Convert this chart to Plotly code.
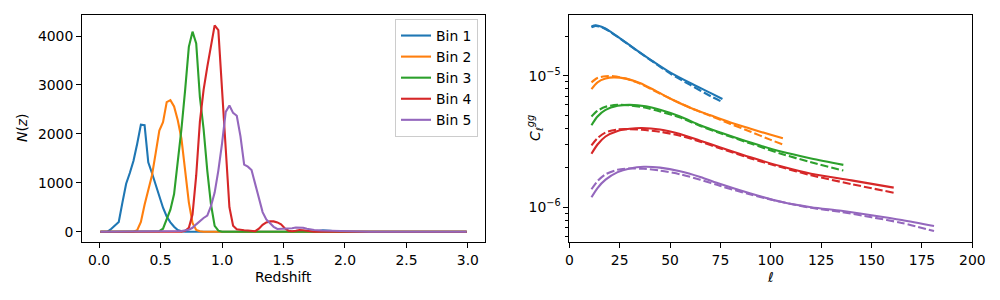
import plotly.graph_objects as go

# ---------------- N(z) data (left panel) ----------------
z_bin1 = [0.01, 0.07, 0.10, 0.13, 0.16, 0.19, 0.22, 0.25, 0.28, 0.31, 0.34, 0.37, 0.40, 0.43, 0.46,
          0.49, 0.52, 0.55, 0.58, 0.61, 0.64, 0.67, 0.70, 1.75, 1.82, 1.88, 1.95, 2.99]
n_bin1 = [0, 0, 60, 130, 200, 600, 980, 1200, 1450, 1800, 2190, 2180, 1420, 1200, 960,
          770, 490, 310, 190, 100, 35, 10, 0, 0, 30, 20, 0, 0]

z_bin2 = [0.01, 0.28, 0.31, 0.34, 0.37, 0.40, 0.43, 0.46, 0.49, 0.52, 0.55, 0.58, 0.61, 0.64,
          0.67, 0.70, 0.73, 0.76, 0.79, 0.82, 0.85, 2.99]
n_bin2 = [0, 0, 30, 200, 550, 850, 1150, 1600, 2070, 2240, 2650, 2690, 2560, 2280,
          1900, 1250, 600, 180, 35, 10, 0, 0]

z_bin3 = [0.01, 0.46, 0.49, 0.52, 0.55, 0.58, 0.61, 0.64, 0.67, 0.70, 0.73, 0.76, 0.79, 0.82,
          0.85, 0.88, 0.91, 0.94, 0.97, 1.00, 2.99]
n_bin3 = [0, 0, 10, 60, 250, 450, 770, 1400, 2100, 2900, 3780, 4090, 3850, 2750,
          2100, 1250, 560, 120, 20, 0, 0]

z_bin4 = [0.01, 0.67, 0.70, 0.73, 0.76, 0.79, 0.82, 0.85, 0.88, 0.91, 0.94, 0.97, 1.00, 1.03,
          1.06, 1.09, 1.12, 1.15, 1.18, 1.21, 1.24, 1.27, 1.30, 1.33, 1.36, 1.39, 1.42, 1.45,
          1.48, 1.51, 1.54, 1.57, 1.60, 1.63, 1.66, 1.70, 1.75, 2.99]
n_bin4 = [0, 0, 20, 80, 350, 1150, 2250, 2900, 3370, 3800, 4220, 4120, 3000, 1700,
          500, 120, 50, 35, 30, 25, 15, 10, 60, 140, 190, 210, 210, 190,
          150, 70, 20, 10, 20, 35, 30, 10, 0, 0]

z_bin5 = [0.01, 0.55, 0.61, 0.67, 0.73, 0.76, 0.79, 0.82, 0.85, 0.88, 0.91, 0.94, 0.97, 1.00,
          1.03, 1.06, 1.09, 1.12, 1.15, 1.18, 1.21, 1.24, 1.27, 1.30, 1.33, 1.36, 1.39, 1.42,
          1.45, 1.48, 1.51, 1.54, 1.57, 1.60, 1.63, 1.66, 1.69, 1.72, 1.75, 1.81, 1.87, 1.93,
          2.00, 2.10, 2.20, 2.99]
n_bin5 = [0, 0, 5, 15, 40, 80, 150, 220, 280, 330, 520, 800, 1250, 1800,
          2450, 2580, 2430, 2370, 1950, 1370, 1330, 1260, 980, 700, 400, 250, 170, 100,
          55, 55, 55, 55, 70, 85, 85, 80, 60, 45, 35, 25, 20, 15,
          15, 10, 0, 0]

# ---------------- C_ell data (right panel) ----------------
ell_bin1 = [11, 13, 16, 20, 25, 33, 42, 50, 60, 70, 76]
cl_bin1_solid = [2.36e-5, 2.41e-5, 2.35e-5, 2.18e-5, 1.93e-5, 1.58e-5, 1.27e-5, 1.06e-5, 8.8e-6, 7.4e-6, 6.65e-6]
cl_bin1_dash = [2.33e-5, 2.39e-5, 2.34e-5, 2.17e-5, 1.92e-5, 1.57e-5, 1.26e-5, 1.04e-5, 8.5e-6, 7.0e-6, 6.3e-6]

ell_bin2 = [11, 14, 18, 22, 28, 35, 42, 50, 60, 70, 80, 90, 100, 106]
cl_bin2_solid = [7.9e-6, 8.9e-6, 9.5e-6, 9.7e-6, 9.5e-6, 8.8e-6, 7.8e-6, 6.7e-6, 5.7e-6, 5.0e-6, 4.4e-6, 3.95e-6, 3.55e-6, 3.34e-6]
cl_bin2_dash = [8.9e-6, 9.6e-6, 9.9e-6, 9.9e-6, 9.5e-6, 8.7e-6, 7.7e-6, 6.7e-6, 5.7e-6, 4.95e-6, 4.3e-6, 3.75e-6, 3.25e-6, 3.0e-6]

ell_bin3 = [11, 14, 18, 24, 30, 38, 45, 55, 65, 75, 90, 105, 120, 136]
cl_bin3_solid = [4.2e-6, 4.9e-6, 5.5e-6, 5.9e-6, 6.0e-6, 5.85e-6, 5.5e-6, 4.9e-6, 4.2e-6, 3.7e-6, 3.1e-6, 2.65e-6, 2.35e-6, 2.1e-6]
cl_bin3_dash = [4.9e-6, 5.4e-6, 5.8e-6, 6.0e-6, 5.95e-6, 5.7e-6, 5.35e-6, 4.8e-6, 4.15e-6, 3.65e-6, 3.05e-6, 2.55e-6, 2.2e-6, 1.9e-6]

ell_bin4 = [11, 14, 18, 24, 30, 36, 45, 55, 65, 75, 90, 105, 120, 140, 161]
cl_bin4_solid = [2.55e-6, 3.0e-6, 3.45e-6, 3.8e-6, 3.95e-6, 4.0e-6, 3.9e-6, 3.6e-6, 3.2e-6, 2.85e-6, 2.4e-6, 2.05e-6, 1.8e-6, 1.6e-6, 1.41e-6]
cl_bin4_dash = [2.95e-6, 3.35e-6, 3.7e-6, 3.9e-6, 3.92e-6, 3.88e-6, 3.75e-6, 3.5e-6, 3.15e-6, 2.8e-6, 2.35e-6, 2.02e-6, 1.75e-6, 1.5e-6, 1.29e-6]

ell_bin5 = [11, 14, 18, 24, 30, 37, 45, 55, 65, 75, 90, 105, 120, 135, 150, 165, 181]
cl_bin5_solid = [1.19e-6, 1.4e-6, 1.62e-6, 1.85e-6, 1.97e-6, 2.03e-6, 2.0e-6, 1.88e-6, 1.7e-6, 1.5e-6, 1.27e-6, 1.1e-6, 1.0e-6, 0.94e-6, 0.87e-6, 0.8e-6, 0.72e-6]
cl_bin5_dash = [1.37e-6, 1.58e-6, 1.78e-6, 1.93e-6, 1.97e-6, 1.96e-6, 1.9e-6, 1.78e-6, 1.62e-6, 1.45e-6, 1.25e-6, 1.1e-6, 0.99e-6, 0.92e-6, 0.84e-6, 0.76e-6, 0.66e-6]

bin_names = ["Bin 1", "Bin 2", "Bin 3", "Bin 4", "Bin 5"]
colors = ["#1f77b4", "#ff7f0e", "#2ca02c", "#d62728", "#9467bd"]

z_all = [z_bin1, z_bin2, z_bin3, z_bin4, z_bin5]
n_all = [n_bin1, n_bin2, n_bin3, n_bin4, n_bin5]
ell_all = [ell_bin1, ell_bin2, ell_bin3, ell_bin4, ell_bin5]
cls_all = [cl_bin1_solid, cl_bin2_solid, cl_bin3_solid, cl_bin4_solid, cl_bin5_solid]
cld_all = [cl_bin1_dash, cl_bin2_dash, cl_bin3_dash, cl_bin4_dash, cl_bin5_dash]

FONT = "DejaVu Sans"
LW = 2.1

fig = go.Figure()

for name, c, z, n in zip(bin_names, colors, z_all, n_all):
    fig.add_trace(go.Scatter(x=z, y=n, mode="lines", name=name,
                             line=dict(color=c, width=LW), xaxis="x", yaxis="y"))

for name, c, ell, cs, cd in zip(bin_names, colors, ell_all, cls_all, cld_all):
    fig.add_trace(go.Scatter(x=ell, y=cs, mode="lines", showlegend=False,
                             line=dict(color=c, width=LW, shape="spline", smoothing=0.8),
                             xaxis="x2", yaxis="y2"))
    fig.add_trace(go.Scatter(x=ell, y=cd, mode="lines", showlegend=False,
                             line=dict(color=c, width=LW, dash="8px,3px", shape="spline", smoothing=0.8),
                             xaxis="x2", yaxis="y2"))

axis_common = dict(showline=True, linecolor="black", linewidth=1.1, mirror=True,
                   ticks="outside", ticklen=4.9, tickwidth=1.1, tickcolor="black",
                   showgrid=False, zeroline=False, automargin=False,
                   tickfont=dict(family=FONT, size=13.9, color="black"))

ydom = [1 - 242 / 300, 1 - 15 / 300]

minor_vals = [6e-7, 7e-7, 8e-7, 9e-7, 2e-6, 3e-6, 4e-6, 5e-6, 6e-6, 7e-6, 8e-6, 9e-6, 2e-5]

txt_font = dict(family=FONT, size=13.9, color="black")

fig.update_layout(
    width=1000, height=300,
    margin=dict(l=0, r=0, t=0, b=0, autoexpand=False),
    paper_bgcolor="white", plot_bgcolor="white",
    font=txt_font,
    xaxis=dict(domain=[0.082, 0.485], range=[-0.139, 3.139],
               tickvals=[0, 0.5, 1.0, 1.5, 2.0, 2.5, 3.0], tickformat=".1f", anchor="y",
               **axis_common),
    yaxis=dict(domain=ydom, range=[-211, 4431],
               tickvals=[0, 1000, 2000, 3000, 4000], anchor="x", **axis_common),
    xaxis2=dict(domain=[0.5693, 0.9723], range=[0, 200],
                tickvals=[0, 25, 50, 75, 100, 125, 150, 175, 200], anchor="y2",
                **axis_common),
    yaxis2=dict(domain=ydom, type="log", range=[-6.264, -4.539],
                tickvals=[1e-6, 1e-5], ticktext=["10<sup>−6</sup>", "10<sup>−5</sup>"],
                minor=dict(tickvals=minor_vals, ticks="outside", ticklen=2.8,
                           tickwidth=0.8, tickcolor="black", showgrid=False),
                anchor="x2", **axis_common),
    legend=dict(x=0.478, xanchor="right", y=1 - 19 / 300, yanchor="top",
                bgcolor="rgba(255,255,255,0.8)", bordercolor="#cccccc", borderwidth=1,
                font=txt_font, itemwidth=30, tracegroupgap=0),
    showlegend=True,
    annotations=[
        dict(text="Redshift", x=0.2835, y=1 - 277 / 300, xref="paper", yref="paper",
             xanchor="center", yanchor="middle", showarrow=False, font=txt_font),
        dict(text="<i>ℓ</i>", x=0.7708, y=1 - 277 / 300, xref="paper", yref="paper",
             xanchor="center", yanchor="middle", showarrow=False, font=txt_font),
        dict(text="<i>N</i>(<i>z</i>)", x=0.022, y=1 - 128 / 300, xref="paper", yref="paper",
             xanchor="center", yanchor="middle", showarrow=False, textangle=-90, font=txt_font),
        dict(text="<i>C</i><sub><i>ℓ</i></sub><sup><i>gg</i></sup>", x=0.535, y=1 - 128 / 300,
             xref="paper", yref="paper", xanchor="center", yanchor="middle",
             showarrow=False, textangle=-90, font=txt_font),
    ],
)

fig.write_html("out.html", config={"displayModeBar": False},
               post_script="document.body.style.margin='0';")
